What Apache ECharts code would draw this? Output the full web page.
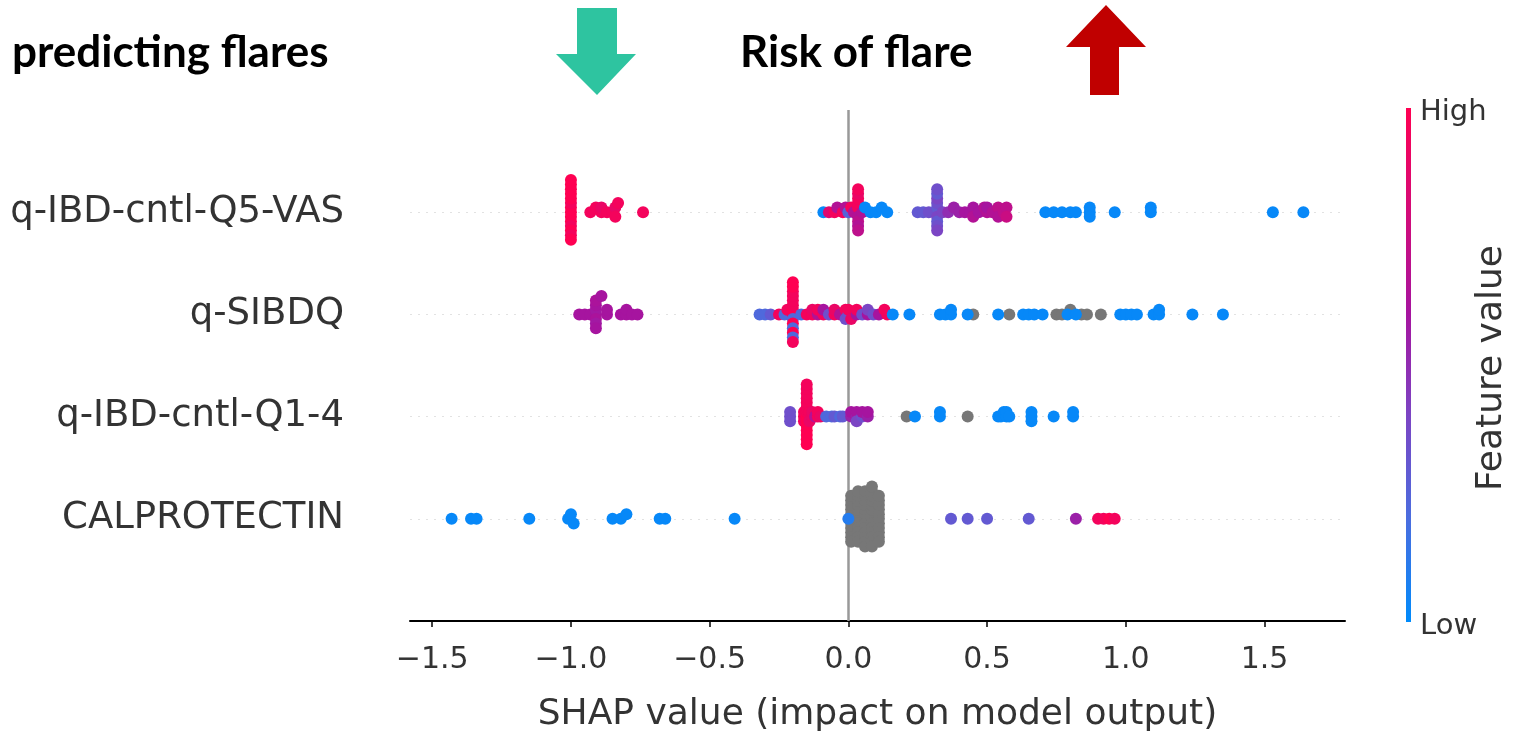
<!DOCTYPE html>
<html><head><meta charset="utf-8">
<script src="https://cdn.jsdelivr.net/npm/echarts@6/dist/echarts.min.js"></script>
<style>html,body{margin:0;padding:0;background:#fff}#c{width:1527px;height:732px}</style>
</head><body><div id="c"></div>
<script>
// features, bottom to top
const features = ['CALPROTECTIN', 'q-IBD-cntl-Q1-4', 'q-SIBDQ', 'q-IBD-cntl-Q5-VAS'];
const xTicks = [-1.5, -1.0, -0.5, 0.0, 0.5, 1.0, 1.5];
const colorbarLabels = ['High', 'Low'];
const colorbarTitle = 'Feature value';
const xTitle = 'SHAP value (impact on model output)';
const leftTitle = 'predicting flares';
const midTitle = 'Risk of flare';

// [SHAP value, feature value 0 (low) .. 1 (high), null = missing]
const vasPoints = [
 [-1.00,1],[-1.00,1],[-1.00,1],[-1.00,0.95],[-1.00,1],[-1.00,1],[-1.00,0.95],[-1.00,1],[-1.00,1],[-1.00,1],[-1.00,0.95],[-1.00,1],[-1.00,1],[-1.00,1],
 [-0.93,0.95],[-0.91,0.95],[-0.89,0.95],[-0.89,0.9],[-0.87,0.95],[-0.85,0.95],[-0.84,0.9],[-0.84,0.95],[-0.83,0.95],[-0.74,0.95],
 [-0.09,0.02],[-0.07,0.85],[-0.05,0.95],[-0.04,0.65],[-0.02,0.95],[-0.01,0.65],[0.00,0.25],[0.01,0.95],[0.02,0.65],
 [0.035,0.95],[0.035,0.65],[0.035,0.95],[0.035,0.7],[0.035,0.95],[0.035,0.65],[0.035,0.9],[0.035,0.7],[0.035,0.95],
 [0.05,0.65],[0.06,0.02],[0.08,0.02],[0.10,0.02],[0.12,0.02],[0.14,0.02],
 [0.25,0.3],[0.27,0.3],[0.29,0.35],
 [0.32,0.35],[0.32,0.3],[0.32,0.4],[0.32,0.35],[0.32,0.3],[0.32,0.4],[0.32,0.35],[0.32,0.3],[0.32,0.4],[0.32,0.35],
 [0.34,0.4],[0.36,0.5],[0.38,0.55],[0.40,0.55],[0.42,0.6],[0.44,0.6],[0.45,0.6],[0.45,0.65],[0.47,0.6],[0.49,0.65],
 [0.50,0.65],[0.50,0.6],[0.52,0.65],[0.54,0.7],[0.54,0.65],[0.56,0.7],[0.57,0.7],[0.57,0.75],
 [0.71,0.02],[0.74,0.02],[0.77,0.02],[0.80,0.02],[0.82,0.02],[0.87,0.02],[0.87,0.02],[0.87,0.02],[0.96,0.02],
 [1.09,0.02],[1.09,0.02],[1.53,0.02],[1.64,0.02]
];
const sibdqPoints = [
 [-0.97,0.6],[-0.95,0.6],[-0.93,0.6],
 [-0.91,0.6],[-0.91,0.58],[-0.91,0.62],[-0.91,0.6],[-0.91,0.58],[-0.91,0.62],[-0.91,0.6],
 [-0.89,0.6],[-0.87,0.6],[-0.87,0.6],[-0.82,0.6],[-0.80,0.6],[-0.80,0.6],[-0.78,0.6],[-0.76,0.6],
 [-0.32,0.22],[-0.30,0.22],[-0.28,0.3],
 [-0.25,0.95],[-0.23,0.22],[-0.22,0.95],
 [-0.20,0.95],[-0.20,1],[-0.20,0.22],[-0.20,0.95],[-0.20,1],[-0.20,0.95],[-0.20,0.22],
 [-0.20,0.95],[-0.20,1],[-0.20,0.95],[-0.20,0.22],[-0.20,1],[-0.20,0.95],[-0.20,1],
 [-0.17,0.22],[-0.15,0.95],[-0.13,0.95],[-0.13,0.9],[-0.11,0.65],[-0.11,0.95],[-0.09,0.95],[-0.09,0.6],
 [-0.07,0.35],[-0.05,0.95],[-0.05,0.9],[-0.03,0.65],[-0.01,0.95],[-0.01,0.35],[0.00,0.35],[0.00,0.95],
 [0.01,0.9],[0.03,0.6],[0.03,0.95],[0.05,0.35],[0.07,0.6],[0.07,0.4],[0.09,0.35],[0.11,0.6],[0.13,0.95],[0.14,0.95],
 [0.16,0.02],[0.22,0.02],
 [0.33,0.02],[0.35,0.02],[0.37,0.02],[0.37,0.02],[0.43,0.02],[0.45,null],[0.54,0.02],[0.58,null],
 [0.63,0.02],[0.65,0.02],[0.67,0.02],[0.70,0.02],[0.75,null],[0.77,null],[0.79,0.02],[0.80,null],
 [0.82,0.02],[0.84,null],[0.86,null],[0.91,null],[0.98,0.02],[1.00,0.02],[1.02,0.02],[1.04,0.02],
 [1.10,0.02],[1.12,0.02],[1.12,0.02],[1.24,0.02],[1.35,0.02]
];
const q14Points = [
 [-0.21,0.35],[-0.21,0.35],[-0.21,0.35],
 [-0.16,0.95],[-0.16,0.95],[-0.16,0.95],
 [-0.15,1],[-0.15,0.95],[-0.15,1],[-0.15,0.95],[-0.15,1],[-0.15,0.95],[-0.15,1],
 [-0.15,0.95],[-0.15,1],[-0.15,0.95],[-0.15,1],[-0.15,0.95],[-0.15,1],[-0.15,0.95],
 [-0.14,0.95],[-0.14,0.95],[-0.14,0.9],[-0.13,0.9],[-0.13,0.9],[-0.12,0.65],[-0.11,0.95],[-0.11,0.95],[-0.10,0.9],
 [-0.08,0.22],[-0.06,0.22],[-0.05,0.3],[-0.03,0.22],[-0.02,0.3],
 [0.01,0.55],[0.01,0.6],[0.03,0.55],[0.03,0.6],[0.03,0.4],[0.05,0.35],[0.05,0.6],[0.07,0.55],[0.07,0.6],
 [0.21,null],[0.24,0.02],[0.33,0.02],[0.33,0.02],[0.43,null],
 [0.54,0.02],[0.55,0.02],[0.56,0.02],[0.57,0.02],[0.57,0.02],[0.58,0.02],
 [0.66,0.02],[0.66,0.02],[0.66,0.02],[0.74,0.02],[0.81,0.02],[0.81,0.02]
];
const calPoints = [
 [-1.43,0.02],[-1.36,0.02],[-1.34,0.02],[-1.15,0.02],[-1.01,0.02],[-1.00,0.02],[-0.99,0.02],
 [-0.85,0.02],[-0.82,0.02],[-0.80,0.02],[-0.68,0.02],[-0.66,0.02],[-0.41,0.02],[0.00,0.1],
 [0.01,null],[0.01,null],[0.01,null],[0.01,null],[0.01,null],[0.01,null],[0.01,null],[0.01,null],[0.01,null],[0.01,null],
 [0.035,null],[0.035,null],[0.035,null],[0.035,null],[0.035,null],[0.035,null],[0.035,null],[0.035,null],[0.035,null],[0.035,null],[0.035,null],[0.035,null],
 [0.06,null],[0.06,null],[0.06,null],[0.06,null],[0.06,null],[0.06,null],[0.06,null],[0.06,null],[0.06,null],[0.06,null],[0.06,null],[0.06,null],[0.06,null],
 [0.085,null],[0.085,null],[0.085,null],[0.085,null],[0.085,null],[0.085,null],[0.085,null],[0.085,null],[0.085,null],[0.085,null],[0.085,null],[0.085,null],[0.085,null],[0.085,null],
 [0.11,null],[0.11,null],[0.11,null],[0.11,null],[0.11,null],[0.11,null],[0.11,null],[0.11,null],[0.11,null],[0.11,null],[0.11,null],
 [0.37,0.3],[0.43,0.3],[0.50,0.3],[0.65,0.3],[0.82,0.55],[0.90,0.95],[0.92,0.95],[0.94,1],[0.96,0.95]
];
const rows = [calPoints, q14Points, sibdqPoints, vasPoints];

const cmap = ['#008bfb', '#4a6ddf', '#7b45c4', '#a6149f', '#d40b78', '#ff0052'];

// SHAP-style beeswarm layout: quantize SHAP values, stack points in each bin
function swarm(points, row) {
  const xs = points.map(p => p[0]);
  const mn = Math.min(...xs), mx = Math.max(...xs);
  const quant = xs.map(x => Math.round(100 * (x - mn) / (mx - mn + 1e-8)));
  const idx = points.map((_, i) => i).sort((a, b) => quant[a] - quant[b] || a - b);
  const ys = new Array(points.length).fill(0);
  let layer = 0, last = -1;
  for (const i of idx) {
    if (quant[i] !== last) layer = 0;
    ys[i] = Math.ceil(layer / 2) * ((layer % 2) * 2 - 1);
    layer++; last = quant[i];
  }
  const s = 0.9 * 0.4 / Math.max(...ys.map(y => y + 1));
  return points.map((p, i) => [p[0], row + ys[i] * s, p[1]]);
}
const grayData = [], colorData = [];
rows.forEach((pts, r) => {
  swarm(pts, r).forEach(d => { if (d[2] === null) grayData.push([d[0], d[1]]); else colorData.push(d); });
});

const FONT = 'DejaVu Sans';
const chart = echarts.init(document.getElementById('c'), null, {renderer: 'canvas'});
chart.setOption({
  animation: false,
  backgroundColor: '#fff',
  textStyle: {fontFamily: FONT},
  grid: {left: 410, right: 182, top: 110, bottom: 111, containLabel: false, outerBoundsMode: 'none'},
  xAxis: {
    type: 'value', min: -1.58, max: 1.79,
    axisLine: {show: true, onZero: false, lineStyle: {color: '#000', width: 2}},
    axisTick: {show: true, customValues: xTicks, length: 6, lineStyle: {color: '#000', width: 1.5}},
    axisLabel: {customValues: xTicks, formatter: v => v.toFixed(1).replace('-', '\u2212'),
      fontSize: 30, color: '#333', margin: 24, fontFamily: FONT},
    splitLine: {show: false},
    name: xTitle, nameLocation: 'middle', nameGap: 76,
    nameTextStyle: {fontSize: 36, color: '#333', fontFamily: FONT}
  },
  yAxis: {
    type: 'value', min: -1, max: 4, interval: 1,
    axisLine: {show: false}, axisTick: {show: false}, splitLine: {show: false},
    axisLabel: {formatter: v => features[v] || '', fontSize: 37, color: '#333', margin: 66, fontFamily: FONT}
  },
  visualMap: {
    show: false, type: 'continuous', seriesIndex: 2, dimension: 2, min: 0, max: 1,
    inRange: {color: cmap}
  },
  series: [
    {
      type: 'scatter', data: [], silent: true,
      markLine: {
        silent: true, symbol: 'none', label: {show: false}, animation: false,
        data: [
          {yAxis: 0, lineStyle: {color: '#e2e2e2', width: 1, type: [2, 6]}},
          {yAxis: 1, lineStyle: {color: '#e2e2e2', width: 1, type: [2, 6]}},
          {yAxis: 2, lineStyle: {color: '#e2e2e2', width: 1, type: [2, 6]}},
          {yAxis: 3, lineStyle: {color: '#e2e2e2', width: 1, type: [2, 6]}},
          {xAxis: 0, lineStyle: {color: '#999', width: 2.5, type: 'solid'}}
        ]
      }
    },
    {type: 'scatter', z: 10, data: grayData, symbolSize: 12, itemStyle: {color: '#777777', opacity: 1}},
    {type: 'scatter', z: 11, data: colorData, symbolSize: 12, itemStyle: {opacity: 1}}
  ],
  graphic: [
    {type: 'text', left: 12, top: 31, style: {text: leftTitle, font: 'bold 44px Lato', fill: '#000'}},
    {type: 'text', left: 740, top: 31, style: {text: midTitle, font: 'bold 44px Lato', fill: '#000'}},
    {type: 'polygon', shape: {points: [[577, 8], [617, 8], [617, 54], [636, 54], [597, 95], [556, 54], [577, 54]]},
      style: {fill: '#2ec4a0'}},
    {type: 'polygon', shape: {points: [[1106, 5], [1146, 47], [1119, 47], [1119, 95], [1090, 95], [1090, 47], [1066, 47]]},
      style: {fill: '#c00000'}},
    {type: 'rect', shape: {x: 1406, y: 108, width: 5, height: 514},
      style: {fill: new echarts.graphic.LinearGradient(0, 0, 0, 1,
        cmap.slice().reverse().map((c, i, a) => ({offset: i / (a.length - 1), color: c})))}},
    {type: 'text', x: 1420, y: 112, style: {text: colorbarLabels[0], font: '29px "DejaVu Sans"', fill: '#333', verticalAlign: 'middle'}},
    {type: 'text', x: 1420, y: 626, style: {text: colorbarLabels[1], font: '29px "DejaVu Sans"', fill: '#333', verticalAlign: 'middle'}},
    {type: 'text', x: 1492, y: 368, rotation: Math.PI / 2,
      style: {text: colorbarTitle, font: '36px "DejaVu Sans"', fill: '#333', align: 'center', verticalAlign: 'middle'}}
  ]
});
</script></body></html>
